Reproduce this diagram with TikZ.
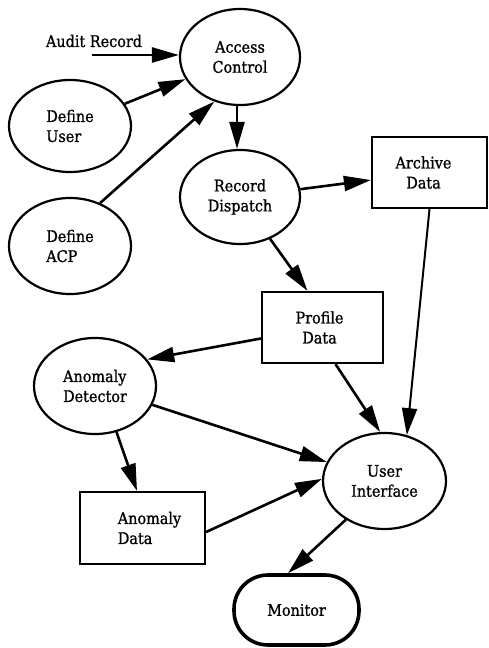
\documentclass[tikz,border=0pt]{standalone}
\usepackage{fontspec}
\newfontfamily\diafont{DejaVu Serif}[FakeStretch=0.9, FakeBold=1]
\usetikzlibrary{arrows.meta,shapes.geometric}
\begin{document}
\begin{tikzpicture}[x=1pt,y=-1pt,
  every node/.style={font=\diafont\fontsize{16}{20}\selectfont, align=center, inner sep=0pt},
  proc/.style={ellipse, draw, line width=2.2pt},
  store/.style={rectangle, draw, line width=2.2pt},
  term/.style={rectangle, rounded corners=34pt, draw, line width=3.6pt},
  flow/.style={line width=2.6pt, -{Triangle[length=27pt,width=15pt]}}
]
\useasboundingbox (0,0) rectangle (489,648);

\node[proc, minimum width=120pt, minimum height=96pt] (AC) at (240,57) {Access\\Control};
\node[proc, minimum width=122pt, minimum height=92pt, align=left] (DU) at (70,126) {Define\\User};
\node[proc, minimum width=122pt, minimum height=96pt, align=left] (DA) at (70,246) {Define\\ACP};
\node[proc, minimum width=120pt, minimum height=94pt] (RD) at (240,197) {Record\\Dispatch};
\node[store, minimum width=115pt, minimum height=71pt] (AR) at (429.5,172.5) {Archive\hspace*{12pt}\\Data\hspace*{12pt}};
\node[store, minimum width=121pt, minimum height=71pt] (PD) at (322.5,327.5) {Profile\hspace*{6pt}\\Data\hspace*{6pt}};
\node[proc, minimum width=122pt, minimum height=96pt, align=left] (AD) at (95,386) {Anomaly\\Detector};
\node[proc, minimum width=123pt, minimum height=96pt] (UI) at (384.5,481) {User\\Interface};
\node[store, minimum width=125pt, minimum height=72pt, align=left] (ADa) at (142.5,528) {\hspace*{14pt}Anomaly\\\hspace*{14pt}Data};
\node[term, minimum width=125pt, minimum height=70pt] (Mo) at (296.5,610) {Monitor};

\node (ARtxt) at (94,41) {Audit Record};
\coordinate (src) at (92,55);

\draw[flow] (src) -- (src -| AC.west);
\draw[flow] (DU) -- (AC);
\draw[flow] (DA.55) -- (AC.240);
\draw[flow] ([xshift=-3pt]AC.south) -- ([xshift=-3pt]RD.north);
\draw[flow] (RD) -- (AR);
\draw[flow] (RD) -- ([xshift=-15pt]PD.north);
\draw[flow] ([yshift=-11pt]PD.west) -- (AD.27);
\draw[flow] ([xshift=13pt]PD.south) -- (UI.95);
\draw[flow, line width=2pt] (AR.south) -- (UI.64);
\draw[flow] (AD) -- (UI);
\draw[flow] (AD.-65) -- ([xshift=-5.5pt]ADa.north);
\draw[flow] ([yshift=-4pt]ADa.east) -- (UI.178);
\draw[flow] (UI.225) -- ([xshift=-8.5pt]Mo.north);
\end{tikzpicture}
\end{document}
